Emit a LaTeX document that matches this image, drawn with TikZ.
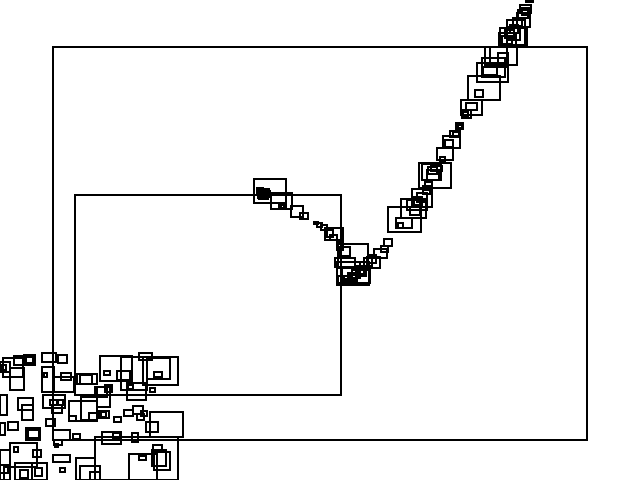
\documentclass[tikz,border=0pt]{standalone}
\tikzset{boxsec/.style={x=0.025cm,y=-0.025cm,line width=1pt,line join=miter}}

\begin{document}
\begin{tikzpicture}[boxsec]
    \useasboundingbox (0,0) rectangle (640,480);
    % the two large boxes
    \draw (53,47) rectangle (587,440);
    \draw (75,195) rectangle (341,395);
    % lower-left cluster
    \foreach \xa/\ya/\xb/\yb in {100/356/132/381, 121/357/147/390, 139/353/152/360, 143/357/178/385,
        147/358/170/379, 154/372/162/377, 42/353/56/362, 58/355/67/363, 42/367/54/392, 44/373/47/377,
        54/377/74/392, 61/373/71/380, 77/374/97/384, 80/375/92/384, 3/358/23/377, 14/356/35/365,
        24/355/35/364, 0/362/10/372, 2/365/6/370, 10/368/24/390, 26/357/33/363, 104/371/110/375,
        117/371/130/380, 127/383/146/400, 128/385/133/389,
        150/388/155/392, 95/387/107/397, 97/387/110/407, 105/385/112/392, 69/401/97/421, 81/397/97/420,
        69/416/76/421, 89/413/97/420, 99/411/109/418, 101/412/106/417, 114/417/121/422, 124/410/133/416,
        133/406/143/414, 137/414/144/420, 141/411/147/416, 150/412/183/437, 146/422/158/432,
        43/395/65/408, 52/405/62/413, 50/400/58/405, 57/400/63/405, 18/398/33/410, 22/405/33/420,
        0/395/7/415, 46/419/55/426, 8/422/18/430, 26/428/40/440, 28/430/39/438, 0/423/5/435,
        73/434/80/439, 53/430/70/440, 54/440/62/445, 55/444/58/447, 102/432/121/444, 113/433/120/439,
        132/433/138/442, 95/437/178/480, 129/454/157/480, 153/445/162/450, 152/450/166/466,
        154/452/170/470, 139/456/146/460, 76/458/95/480, 80/466/100/480, 90/472/100/480, 60/468/65/472,
        53/455/70/462, 10/443/37/467, 14/447/18/452, 33/450/41/457, 15/463/47/480, 32/463/47/480,
        0/450/10/480, 0/465/8/473, 4/467/10/480, 35/468/42/476, 20/470/28/478} {
        \draw (\xa,\ya) rectangle (\xb,\yb);
    }
    % middle arm of the curve
    \foreach \xa/\ya/\xb/\yb in {254/179/286/203, 258/190/266/198, 260/192/268/199, 262/189/269/196,
        259/194/265/199, 257/188/263/194, 264/191/270/197, 271/193/292/209, 279/203/286/209,
        281/205/284/208, 291/206/303/217, 300/213/308/219, 314/222/318/224, 317/223/322/227,
        321/225/327/230, 325/228/343/240, 327/230/333/237, 330/235/337/240, 337/242/343/250,
        338/244/368/268, 339/247/350/256, 335/258/355/267, 337/262/369/285, 342/267/370/283,
        338/276/343/283, 344/276/352/284, 348/273/357/281, 352/270/360/278, 356/266/364/274,
        360/262/368/270, 346/279/354/285, 364/258/372/266, 368/255/376/263, 367/257/380/268,
        374/249/387/258, 381/246/388/252, 384/239/392/246, 350/275/356/282, 358/268/366/276} {
        \draw (\xa,\ya) rectangle (\xb,\yb);
    }
    % upper arm of the curve
    \foreach \xa/\ya/\xb/\yb in {388/207/421/232, 396/218/412/228, 398/223/403/228, 401/199/426/218,
        407/200/420/210, 410/207/420/215, 412/189/432/207, 417/193/427/202, 420/200/427/210,
        414/197/422/205, 419/163/451/188, 422/164/441/180, 427/170/439/180, 428/167/437/174,
        431/166/442/171, 425/182/432/190, 423/186/430/194, 437/148/453/160, 440/157/445/162,
        443/136/460/148, 445/140/453/147, 450/131/460/137, 453/132/459/136, 456/123/463/129,
        458/125/462/128, 462/110/471/118, 463/112/468/116, 461/100/482/115, 466/103/477/110,
        475/90/483/97, 468/76/500/100, 477/63/508/82, 482/58/505/77, 483/67/497/75, 485/47/517/65,
        490/47/507/67, 498/53/508/63, 499/33/516/45, 500/28/527/45, 507/20/525/47, 507/27/520/40,
        517/13/530/27, 518/10/528/18, 520/5/531/13, 526/0/533/2, 510/25/518/33, 513/18/522/26,
        502/36/512/44, 505/30/514/38, 522/8/529/15} {
        \draw (\xa,\ya) rectangle (\xb,\yb);
    }
\end{tikzpicture}
\end{document}
